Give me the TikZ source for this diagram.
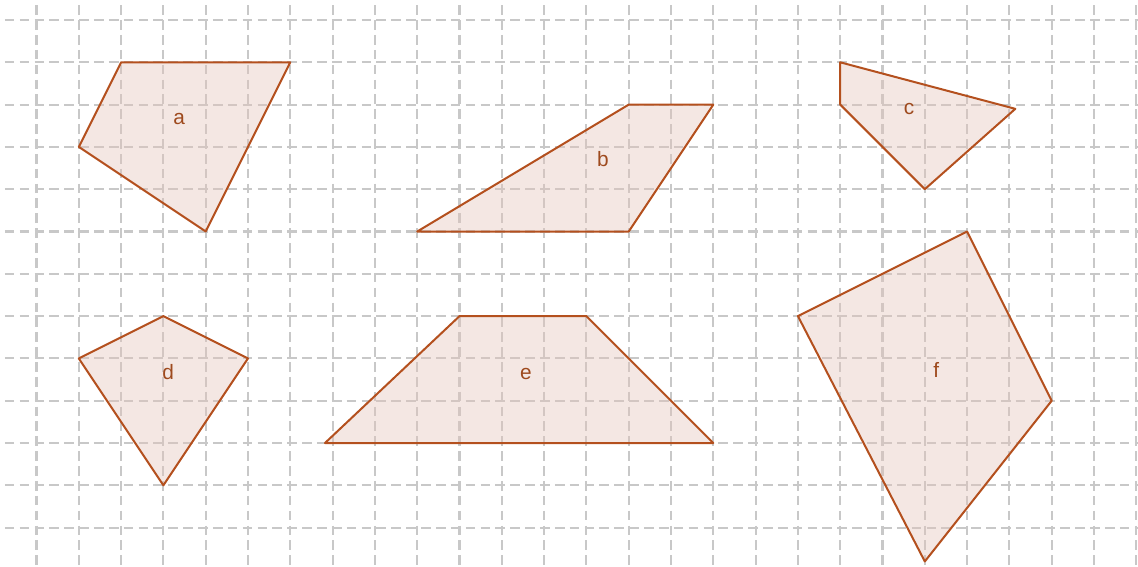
\documentclass[tikz,border=0pt]{standalone}
\usepackage{fontspec}
\setmainfont{Liberation Sans}
\definecolor{edge}{HTML}{B4501E}
\definecolor{face}{HTML}{E4C3B9}
\definecolor{gridc}{HTML}{C8C8C8}
\definecolor{labc}{HTML}{9E4A1E}
\begin{document}
\begin{tikzpicture}[x=1cm, y=-1cm,
    poly/.style={draw=edge, fill=face, fill opacity=.4, draw opacity=1, line width=1.35pt, line join=round},
    lab/.style={text=labc, font=\fontsize{14}{16}\selectfont},
    gridline/.style={gridc, line width=1.4pt, dash pattern=on 6.5pt off 3.5pt}]
\useasboundingbox (-0.863,-0.473) rectangle (26.04,12.91);

% grid
\foreach \j in {0,...,12}
    \draw[gridline] (-0.75,\j)--(26.04,\j);
\foreach \i in {0,...,26}
    \draw[gridline] (\i,-0.35)--(\i,12.91);

% quadrilaterals
\draw[poly] (2,1)--(6,1)--(4,5)--(1,3)--cycle;
\draw[poly] (14,2)--(16,2)--(14,5)--(9,5)--cycle;
\draw[poly] (19,1)--(23.14,2.1)--(21,4)--(19,2)--cycle;
\draw[poly] (3,7)--(5,8)--(3,11)--(1,8)--cycle;
\draw[poly] (10,7)--(13,7)--(16,10)--(6.82,10)--cycle;
\draw[poly] (22,5)--(24,9)--(21,12.8)--(18,7)--cycle;

\node[lab] (a) at (3.37,2.34){a};
\node[lab] (b) at (13.39,3.29){b};
\node[lab] (c) at (20.63,2.1){c};
\node[lab] (d) at (3.11,8.32){d};
\node[lab] (e) at (11.57,8.37){e};
\node[lab] (f) at (21.27,8.27){f};
\end{tikzpicture}
\end{document}
